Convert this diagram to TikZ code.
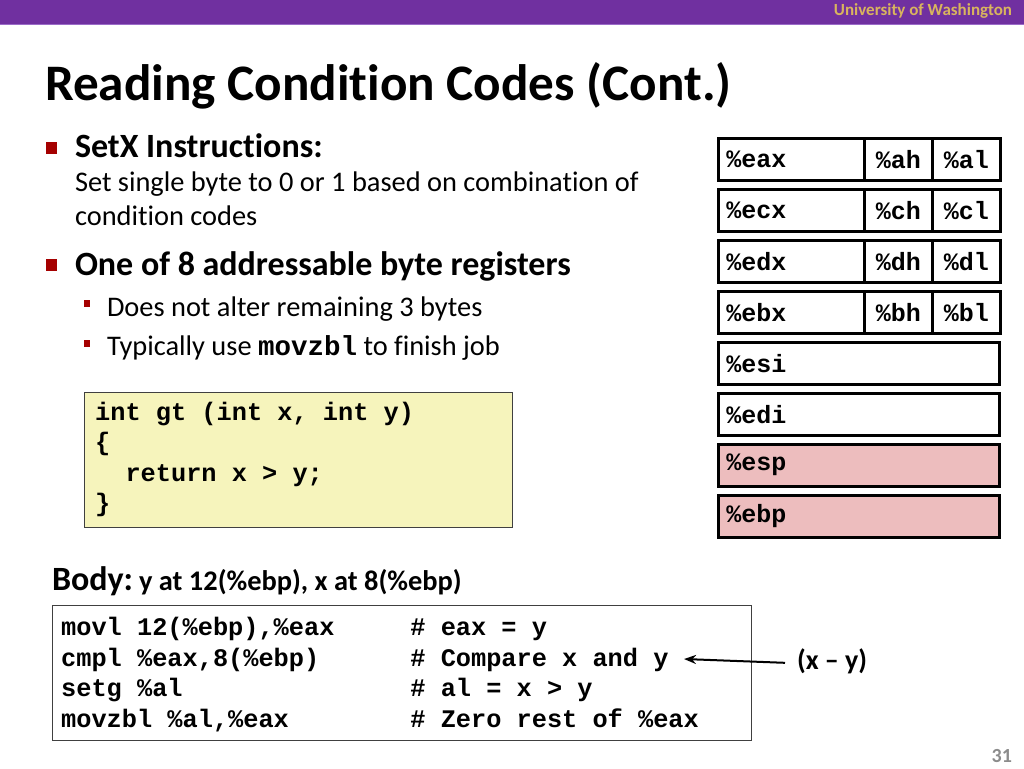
\documentclass[tikz,border=0pt]{standalone}
\usepackage{fontspec}
\setmainfont{Carlito}[Ligatures=NoCommon]
\setmonofont{Liberation Mono}
\usetikzlibrary{arrows.meta}
\definecolor{uwpurple}{HTML}{7030A0}
\definecolor{uwlight}{HTML}{9B6BC8}
\definecolor{uwgold}{HTML}{D9B45E}
\definecolor{bulletred}{HTML}{A50000}
\definecolor{codeyellow}{HTML}{F6F4BC}
\definecolor{regpink}{HTML}{EDBDBE}
\definecolor{pagegray}{HTML}{8C8C8C}
\newcommand{\fs}[1]{\fontsize{#1}{#1}\selectfont}
\tikzset{
  txt/.style={anchor=base west, inner sep=0pt, outer sep=0pt},
  bigbullet/.style={fill=bulletred, minimum size=11.5pt, inner sep=0pt},
  smallbullet/.style={fill=bulletred, minimum width=6pt, minimum height=7pt, inner sep=0pt},
  regcell/.style={draw=black, line width=2.5pt, minimum height=42pt, inner sep=0pt, anchor=north west, font=\fs{25}\ttfamily\bfseries},
  codeline/.style={anchor=base west, inner sep=0pt, font=\fs{25.3}\ttfamily\bfseries},
}
\begin{document}
\begin{tikzpicture}[x=1pt,y=-1pt]
\useasboundingbox (0,0) rectangle (1024,768);
\fill[white] (0,0) rectangle (1024,768);
% top bar
\fill[uwpurple] (0,0) rectangle (1024,24);
\fill[uwlight] (0,24) rectangle (1024,25.5);
\node[txt, anchor=base east, text=uwgold, font=\fs{17}\bfseries] (uw) at (1012,16) {University of Washington};
% title
\node[txt, font=\fs{51.2}\bfseries] (title) at (45,100) {Reading Condition Codes (Cont.)};
% bullets
\node[bigbullet] (b1) at (51.5,148) {};
\node[txt, font=\fs{34}\bfseries] (t1) at (75,157) {SetX Instructions:};
\node[txt, font=\fs{28.4}] (t1a) at (75,191) {Set single byte to 0 or 1 based on combination of};
\node[txt, font=\fs{28.4}] (t1b) at (75,225) {condition codes};
\node[bigbullet] (b2) at (51.5,265) {};
\node[txt, font=\fs{34}\bfseries] (t2) at (75,275) {One of 8 addressable byte registers};
\node[smallbullet] (s1) at (87,303) {};
\node[txt, font=\fs{28.4}] (t3) at (107,316) {Does not alter remaining 3 bytes};
\node[smallbullet] (s2) at (87,343) {};
\node[txt, font=\fs{28.4}] (t4) at (107,355) {Typically use {\fs{27.5}\ttfamily\bfseries movzbl} to finish job};
% C code box
\node[draw=black!75, line width=1.2pt, fill=codeyellow, minimum width=428pt, minimum height=135pt, anchor=north west, inner sep=0pt] (cbox) at (84,392) {};
\node[codeline] (c1) at (95,420) {int gt (int x, int y)};
\node[codeline] (c2) at (95,450) {\{};
\node[codeline] (c3) at (95,481) {\ \ return x > y;};
\node[codeline] (c4) at (95,511) {\}};
% registers
\foreach \nm/\yy/\hi/\lo in {eax/136/ah/al, ecx/187/ch/cl, edx/238/dh/dl, ebx/289/bh/bl} {
  \node[regcell, minimum width=146pt, text width=130pt, align=left] (\nm) at (717,\yy+1) {\%\nm};
  \node[regcell, minimum width=68pt, text width=68pt, align=center] (\hi) at (863,\yy+1) {\%\hi};
  \node[regcell, minimum width=68pt, text width=68pt, align=center] (\lo) at (931,\yy+1) {\%\lo};
}
\foreach \nm/\yy/\col in {esi/340/white, edi/391/white, esp/442/regpink, ebp/493/regpink} {
  \node[regcell, fill=\col, minimum width=281pt, text width=265pt, align=left] (\nm) at (717,\yy+1) {\%\nm};
}
% body
\node[txt, font=\fs{34}\bfseries] (body) at (52,590) {Body:};
\node[txt, font=\fs{28.4}\bfseries, anchor=base west] (bodyt) at ([xshift=6pt]body.base east) {y at 12(\%ebp), x at 8(\%ebp)};
\node[draw=black!75, line width=1.2pt, fill=white, minimum width=699pt, minimum height=135pt, anchor=north west, inner sep=0pt] (abox) at (52,605) {};
\node[codeline] (a1) at (61,635) {movl 12(\%ebp),\%eax\ \ \ \ \ \# eax = y};
\node[codeline] (a2) at (61,666) {cmpl \%eax,8(\%ebp)\ \ \ \ \ \ \# Compare x and y};
\node[codeline] (a3) at (61,696) {setg \%al\ \ \ \ \ \ \ \ \ \ \ \ \ \ \ \# al = x > y};
\node[codeline] (a4) at (61,727) {movzbl \%al,\%eax\ \ \ \ \ \ \ \ \# Zero rest of \%eax};
\node[txt, font=\fs{28}\bfseries] (xy) at (797,669) {(x – y)};
\draw[line width=2pt, -{Stealth[length=12pt,width=9pt]}] (xy.west) ++(-12pt,-2pt) coordinate (as) -- (684,659) coordinate (ae);
\node[txt, anchor=base east, text=pagegray, font=\fs{20}\bfseries] (pg) at (1012,762) {31};
\end{tikzpicture}
\end{document}
